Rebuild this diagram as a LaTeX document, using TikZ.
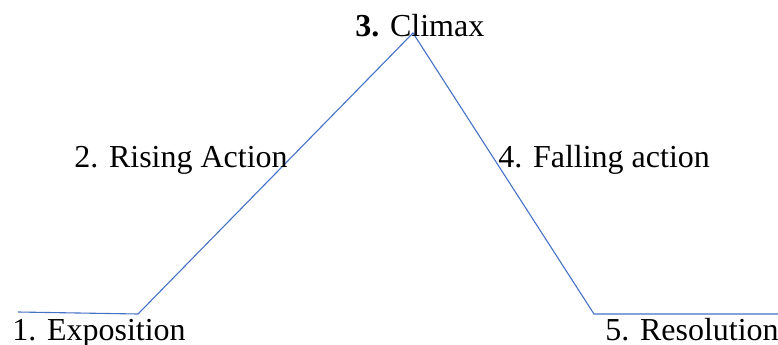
\documentclass[tikz,border=0pt]{standalone}
\usepackage{fontspec}
\setmainfont{Liberation Serif}
\usetikzlibrary{positioning}
\definecolor{plotblue}{RGB}{68,114,196}

\tikzset{stage/.style={inner sep=0pt, anchor=base west, font=\fontsize{16}{18}\selectfont},
  arc/.style={draw=plotblue, line width=0.55pt}}

\begin{document}
\begin{tikzpicture}[x=0.5pt, y=-0.5pt]
  \useasboundingbox (0,0) rectangle (778,344);
  %.
  \coordinate (start) at (18,312);
  \coordinate (low1) at (138,314);
  \coordinate (peak) at (413,33);
  \coordinate (low2) at (594,314);
  \coordinate (stop) at (778,314);
  \draw[arc] (start) -- (low1) -- (peak) -- (low2) -- (stop);
  %.
  \node[stage] (expo) at (12,340) {1. Exposition};
  \node[stage] (rising) at (74,167) {2. Rising Action};
  \node[stage] (climax) at (355,36) {\textbf{3.} Climax};
  \node[stage] (falling) at (498,167) {4. Falling action};
  \node[stage] (resol) at (605,340) {5. Resolution};
  %.
\end{tikzpicture}
\end{document}
